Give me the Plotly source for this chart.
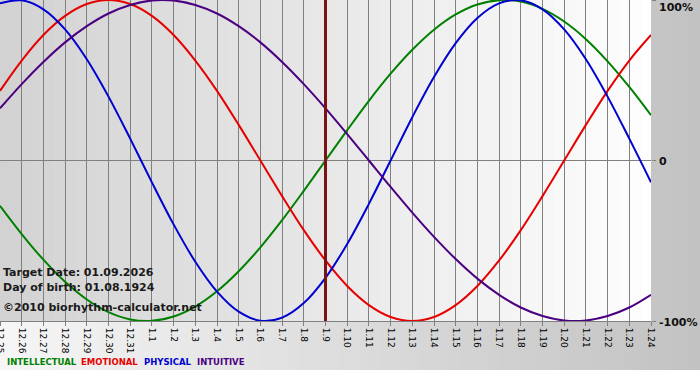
import plotly.graph_objects as go

# ---- data ----
day_labels = ["12.25", "12.26", "12.27", "12.28", "12.29", "12.30", "12.31",
              "1.1", "1.2", "1.3", "1.4", "1.5", "1.6", "1.7", "1.8", "1.9",
              "1.10", "1.11", "1.12", "1.13", "1.14", "1.15", "1.16", "1.17",
              "1.18", "1.19", "1.20", "1.21", "1.22", "1.23", "1.24"]

intellectual = [-28.2, -45.8, -61.8, -75.6, -86.6, -94.5, -99.0, -99.9, -97.2, -91.0,
                -81.5, -69.0, -54.1, -37.2, -18.9, 0.0, 18.9, 37.2, 54.1, 69.0,
                81.5, 91.0, 97.2, 99.9, 99.0, 94.5, 86.6, 75.6, 61.8, 45.8, 28.2]
emotional = [43.4, 62.3, 78.2, 90.1, 97.5, 100.0, 97.5, 90.1, 78.2, 62.3,
             43.4, 22.2, 0.0, -22.2, -43.4, -62.3, -78.2, -90.1, -97.5, -100.0,
             -97.5, -90.1, -78.2, -62.3, -43.4, -22.2, 0.0, 22.2, 43.4, 62.3, 78.2]
physical = [97.9, 99.8, 94.2, 81.7, 63.1, 39.8, 13.6, -13.6, -39.8, -63.1,
            -81.7, -94.2, -99.8, -97.9, -88.8, -73.1, -52.0, -27.0, 0.0, 27.0,
            52.0, 73.1, 88.8, 97.9, 99.8, 94.2, 81.7, 63.1, 39.8, 13.6, -13.6]
intuitive = [32.5, 47.6, 61.4, 73.6, 83.7, 91.6, 96.9, 99.7, 99.7, 96.9,
             91.6, 83.7, 73.6, 61.4, 47.6, 32.5, 16.5, 0.0, -16.5, -32.5,
             -47.6, -61.4, -73.6, -83.7, -91.6, -96.9, -99.7, -99.7, -96.9, -91.6, -83.7]

series_names = ["INTELLECTUAL", "EMOTIONAL", "PHYSICAL", "INTUITIVE"]
target_index = 15  # 1.9
target_date = "01.09.2026"
birth_date = "01.08.1924"
y_tick_values = [100, 0, -100]
y_tick_text = ["100%", "0", "-100%"]

# ---- styling ----
colors = {"INTELLECTUAL": "#008000", "EMOTIONAL": "#e60000",
          "PHYSICAL": "#0000d0", "INTUITIVE": "#4b0082"}
W, H = 700, 380
ML, MR, MT, MB = 0, 49, 0, 59
PW, PH = W - ML - MR, H - MT - MB
xs = list(range(len(day_labels)))


def px_x(p):
    return p / PW


def px_y(p):
    return (PH - p) / PH


def grey(a, b, t):
    v = round(a + (b - a) * t)
    return f"rgb({v},{v},{v})"


fig = go.Figure()
for name, vals in zip(series_names, [intellectual, emotional, physical, intuitive]):
    fig.add_trace(go.Scatter(x=xs, y=vals, mode="lines", name=name,
                             line=dict(color=colors[name], width=2, shape="spline", smoothing=1.0),
                             hoverinfo="skip"))

shapes = []
# paper gradient (light left -> grey right), down to y=370
n = 70
for i in range(n):
    x0 = i * W / n
    x1 = (i + 1) * W / n
    shapes.append(dict(type="rect", xref="paper", yref="paper", layer="below",
                       x0=px_x(x0), x1=px_x(x1 + 0.5), y0=px_y(370), y1=px_y(0),
                       line=dict(width=0), fillcolor=grey(246, 194, (i + 0.5) / n)))
# plot-area gradient (grey left -> white right)
m = 60
span = len(day_labels) - 1
for i in range(m):
    a = i * span / m
    b = (i + 1) * span / m
    shapes.append(dict(type="rect", xref="x", yref="paper", layer="below",
                       x0=a, x1=b + 0.02, y0=0, y1=1,
                       line=dict(width=0), fillcolor=grey(210, 254, (i + 0.5) / m)))
# target day line
shapes.append(dict(type="line", xref="x", yref="paper", x0=target_index, x1=target_index,
                   y0=0, y1=1, line=dict(color="#7a1414", width=3)))
fig.update_layout(shapes=shapes)

ann = []
label_font = dict(family="DejaVu Sans", size=11, color="#111111")
for v, t in zip(y_tick_values, y_tick_text):
    shift = -7 if v == 100 else -1
    ann.append(dict(xref="paper", yref="y", x=1, y=v, text=f"<b>{t}</b>", showarrow=False,
                    xanchor="left", yanchor="middle", xshift=6, yshift=shift, font=label_font))
txt_font = dict(family="DejaVu Sans", size=11, color="#1a1a1a")
for t, py in [(f"Target Date: {target_date}", 272), (f"Day of birth: {birth_date}", 287),
              ("©2010 biorhythm-calculator.net", 307)]:
    ann.append(dict(xref="paper", yref="paper", x=px_x(1), y=px_y(py), text=f"<b>{t}</b>",
                    showarrow=False, xanchor="left", yanchor="middle", font=txt_font))
leg_x = [5, 79, 142, 195]
for name, lx in zip(series_names, leg_x):
    ann.append(dict(xref="paper", yref="paper", x=px_x(lx), y=px_y(362), text=f"<b>{name}</b>",
                    showarrow=False, xanchor="left", yanchor="middle",
                    font=dict(family="DejaVu Sans", size=8.5, color=colors[name])))
fig.update_layout(annotations=ann)

fig.update_layout(
    width=W, height=H,
    margin=dict(l=ML, r=MR, t=MT, b=MB, pad=0, autoexpand=False),
    paper_bgcolor="#ffffff", plot_bgcolor="rgba(0,0,0,0)",
    showlegend=False,
    xaxis=dict(range=[0, span], tickvals=xs, ticktext=day_labels, tickangle=90,
               showgrid=True, gridcolor="#808080", gridwidth=1, zeroline=False,
               showline=True, linecolor="#808080", linewidth=1, automargin=False,
               ticks="outside", ticklen=4, tickcolor="#808080", ticklabeloverflow="allow",
               tickfont=dict(family="DejaVu Sans", size=9, color="#000000"), fixedrange=True),
    yaxis=dict(range=[-100, 100], tickvals=y_tick_values, showticklabels=False,
               side="right", ticks="outside", ticklen=4, tickcolor="#808080",
               showgrid=False, zeroline=True, zerolinecolor="#808080", zerolinewidth=1,
               showline=False, fixedrange=True, automargin=False),
)

fig.write_html("out.html", config={"displayModeBar": False},
               post_script="document.body.style.margin='0';document.body.style.overflow='hidden';")
